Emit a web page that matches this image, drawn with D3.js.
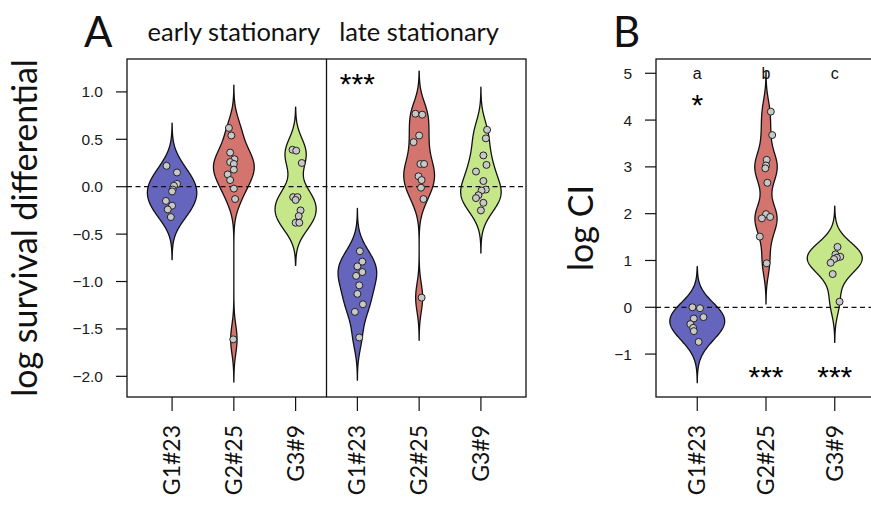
<!DOCTYPE html>
<html>
<head>
<meta charset="utf-8">
<script src="https://cdn.jsdelivr.net/npm/d3@7"></script>
<style>
  body { margin: 0; background: #fff; }
  svg { display: block; }
</style>
</head>
<body>
<div class="chart"></div>
<script>
// ---- data ----
const strains = ["G1#23", "G2#25", "G3#9"]
const phases = ["early stationary", "late stationary"]

// panel A: log survival differential
const earlyG1 = [0.22, 0.15, 0.03, 0.01, -0.03, -0.05, -0.15, -0.2, -0.24, -0.32]
const earlyG2 = [0.62, 0.54, 0.36, 0.29, 0.26, 0.24, 0.18, 0.13, 0.07, -0.02, -0.13, -1.61]
const earlyG3 = [0.39, 0.38, 0.25, -0.11, -0.11, -0.14, -0.25, -0.31, -0.38, -0.38]
const lateG1 = [-0.68, -0.79, -0.84, -0.9, -0.94, -1.04, -1.13, -1.24, -1.32, -1.59]
const lateG2 = [0.77, 0.76, 0.54, 0.47, 0.24, 0.24, 0.11, 0.07, -0.01, -0.13, -1.17]
const lateG3 = [0.6, 0.51, 0.33, 0.23, 0.16, 0.06, -0.03, -0.04, -0.09, -0.12, -0.17, -0.25]

// panel B: log CI
const ciG1 = [0.0, -0.02, -0.21, -0.24, -0.36, -0.44, -0.51, -0.74]
const ciG2 = [4.18, 3.68, 3.15, 3.03, 2.97, 2.66, 1.99, 1.93, 1.9, 1.51, 0.94]
const ciG3 = [1.29, 1.13, 1.08, 1.06, 1.03, 0.95, 0.71, 0.12]

// horizontal jitter of the dots, in category units
const jitEarlyG1 = [-0.09, 0.08, 0.08, 0.03, 0.01, 0, -0.1, 0, -0.07, -0.02]
const jitEarlyG2 = [-0.08, -0.04, -0.06, 0.01, -0.06, 0, 0, -0.1, -0.06, 0, 0.02, -0.01]
const jitEarlyG3 = [-0.05, 0.01, 0.1, -0.04, 0.03, 0, 0.08, 0.05, 0, 0.06]
const jitLateG1 = [0.04, 0.08, 0, 0.08, -0.02, 0.03, 0, 0.09, -0.04, 0.03]
const jitLateG2 = [-0.06, 0.05, 0, -0.09, 0.02, 0.08, -0.01, 0.04, 0.03, 0.07, 0.04]
const jitLateG3 = [0.1, 0.08, 0.04, 0.09, -0.08, 0.04, 0.08, 0.01, -0.04, -0.08, 0.04, 0]
const jitCiG1 = [-0.07, 0.04, 0.09, -0.05, -0.1, -0.06, -0.05, 0.02]
const jitCiG2 = [0.07, 0.09, 0.01, 0, -0.01, 0.02, 0, 0.06, -0.06, -0.09, 0.01]
const jitCiG3 = [0.04, 0.01, 0.08, 0.03, -0.01, -0.06, -0.03, 0.07]

const yTicksA = [-2.0, -1.5, -1.0, -0.5, 0.0, 0.5, 1.0]
const yTicksB = [-1, 0, 1, 2, 3, 4, 5]
const groupLetters = ["a", "b", "c"]
const starsA = "***"
const starsB = ["*", "***", "***"]

const colors = ["#6565be", "#d4746e", "#c6e68a"]
const latexFont = "Lato, 'Open Sans', sans-serif"
const numFont = "'Liberation Sans', Arial, sans-serif"

const width = 871, height = 512

const svg = d3.select(".chart").append("svg")
    .attr("width", width)
    .attr("height", height)

svg.append("rect").attr("width", width).attr("height", height).attr("fill", "#fff")

// gaussian kde over [min - 3h, max + 3h]
const kde = (values, h) => {
    const lo = d3.min(values) - 3 * h, hi = d3.max(values) + 3 * h
    const n = 240
    return d3.range(n + 1).map(i => {
        const v = lo + (hi - lo) * i / n
        const d = d3.sum(values, x => Math.exp(-0.5 * ((v - x) / h) ** 2)) / (values.length * h * Math.sqrt(2 * Math.PI))
        return [v, d]
    })
}

const drawPanel = (g, x, y, groups, bw, maxHalf) => {
    const dens = groups.map(d => kde(d.values, bw))
    const maxD = d3.max(dens, D => d3.max(D, d => d[1]))
    const line = d3.line().x(d => d[0]).y(d => d[1])

    groups.forEach((grp, i) => {
        const D = dens[i]
        const right = D.map(([v, d]) => [x(grp.pos + d / maxD * maxHalf), y(v)])
        const left = D.slice().reverse().map(([v, d]) => [x(grp.pos - d / maxD * maxHalf), y(v)])
        g.append("path")
            .attr("d", line(right.concat(left)) + "Z")
            .attr("fill", grp.color)
            .attr("stroke", "#111")
            .attr("stroke-width", 1.3)
            .attr("stroke-linejoin", "round")
    })

    g.append("line")
        .attr("x1", x.range()[0]).attr("x2", x.range()[1])
        .attr("y1", y(0)).attr("y2", y(0))
        .attr("stroke", "#111")
        .attr("stroke-width", 1.2)
        .attr("stroke-dasharray", "5,3.5")

    groups.forEach(grp => {
        g.append("g")
            .selectAll("circle")
            .data(grp.values.map((v, j) => ({ v, j: grp.jitter[j] })))
            .join("circle")
            .attr("cx", d => x(grp.pos + d.j))
            .attr("cy", d => y(d.v))
            .attr("r", 3.5)
            .attr("fill", "#c8c8c8")
            .attr("stroke", "#222")
            .attr("stroke-width", 1)
    })
}

const drawYAxis = (g, x0, y, ticks, fmt) => {
    const t = g.append("g").selectAll("g").data(ticks).join("g")
        .attr("transform", d => `translate(${x0},${y(d)})`)
    t.append("line").attr("x2", -11).attr("stroke", "#111").attr("stroke-width", 1.2)
    t.append("text")
        .attr("x", -24)
        .attr("dy", "0.35em")
        .attr("text-anchor", "end")
        .attr("font-family", numFont)
        .attr("font-size", 15.5)
        .attr("fill", "#1a1a1a")
        .text(d => fmt(d).replace("-", "\u2212"))
}

const drawXAxis = (g, x, yBase, positions, labels) => {
    const t = g.append("g").selectAll("g").data(positions).join("g")
        .attr("transform", d => `translate(${x(d)},${yBase})`)
    t.append("line").attr("y2", 14).attr("stroke", "#111").attr("stroke-width", 1.2)
    t.append("text")
        .attr("transform", "translate(0,28) rotate(-90)")
        .attr("dy", "0.35em")
        .attr("text-anchor", "end")
        .attr("font-family", latexFont)
        .attr("font-size", 23)
        .attr("fill", "#111")
        .text((d, i) => labels[i])
}

// ---- panel A ----
const xA = d3.scaleLinear().domain([0.27, 6.73]).range([127, 526])
const yA = d3.scaleLinear().domain([-2.218, 1.347]).range([397, 59])
const gA = svg.append("g")

const groupsA = [
    { pos: 1, values: earlyG1, jitter: jitEarlyG1, color: colors[0] },
    { pos: 2, values: earlyG2, jitter: jitEarlyG2, color: colors[1] },
    { pos: 3, values: earlyG3, jitter: jitEarlyG3, color: colors[2] },
    { pos: 4, values: lateG1, jitter: jitLateG1, color: colors[0] },
    { pos: 5, values: lateG2, jitter: jitLateG2, color: colors[1] },
    { pos: 6, values: lateG3, jitter: jitLateG3, color: colors[2] }
]
drawPanel(gA, xA, yA, groupsA, 0.15, 0.4)

gA.append("line")
    .attr("x1", xA(3.5)).attr("x2", xA(3.5))
    .attr("y1", 59).attr("y2", 397)
    .attr("stroke", "#111").attr("stroke-width", 1.3)
gA.append("rect")
    .attr("x", 127).attr("y", 59).attr("width", 399).attr("height", 338)
    .attr("fill", "none").attr("stroke", "#111").attr("stroke-width", 1.3)

drawYAxis(gA, 127, yA, yTicksA, d3.format(".1f"))
drawXAxis(gA, xA, 397, [1, 2, 3, 4, 5, 6], strains.concat(strains))

gA.append("text")
    .attr("x", xA(4)).attr("y", yA(0.98))
    .attr("text-anchor", "middle")
    .attr("font-family", numFont).attr("font-size", 30)
    .text(starsA)

phases.forEach((p, i) => {
    gA.append("text")
        .attr("x", xA(2 + 3 * i)).attr("y", 41)
        .attr("text-anchor", "middle")
        .attr("font-family", latexFont).attr("font-size", 25.5)
        .attr("fill", "#111")
        .text(p)
})

gA.append("text")
    .attr("transform", `translate(37,${(59 + 397) / 2}) rotate(-90)`)
    .attr("text-anchor", "middle")
    .attr("font-family", latexFont).attr("font-size", 34)
    .attr("fill", "#111")
    .text("log survival differential")

svg.append("text").attr("x", 84).attr("y", 47)
    .attr("font-family", latexFont).attr("font-size", 42).attr("fill", "#111")
    .text("A")

// ---- panel B ----
const xB = d3.scaleLinear().domain([0.4, 3.6]).range([656, 876])
const yB = d3.scaleLinear().domain([-1.917, 5.305]).range([397, 59])
const gB = svg.append("g")

const groupsB = [
    { pos: 1, values: ciG1, jitter: jitCiG1, color: colors[0] },
    { pos: 2, values: ciG2, jitter: jitCiG2, color: colors[1] },
    { pos: 3, values: ciG3, jitter: jitCiG3, color: colors[2] }
]
drawPanel(gB, xB, yB, groupsB, 0.29, 0.4)

gB.append("rect")
    .attr("x", 656).attr("y", 59).attr("width", 220).attr("height", 338)
    .attr("fill", "none").attr("stroke", "#111").attr("stroke-width", 1.3)

drawYAxis(gB, 656, yB, yTicksB, d3.format("d"))
drawXAxis(gB, xB, 397, [1, 2, 3], strains)

groupLetters.forEach((l, i) => {
    gB.append("text")
        .attr("x", xB(i + 1)).attr("y", yB(5)).attr("dy", "0.35em")
        .attr("text-anchor", "middle")
        .attr("font-family", numFont).attr("font-size", 16).attr("fill", "#111")
        .text(l)
})
gB.append("text")
    .attr("x", xB(1)).attr("y", yB(4.1))
    .attr("text-anchor", "middle")
    .attr("font-family", numFont).attr("font-size", 30)
    .text(starsB[0])
;[2, 3].forEach(p => {
    gB.append("text")
        .attr("x", xB(p)).attr("y", yB(-1.7))
        .attr("text-anchor", "middle")
        .attr("font-family", numFont).attr("font-size", 30)
        .text(starsB[p - 1])
})

gB.append("text")
    .attr("transform", `translate(593,${(59 + 397) / 2}) rotate(-90)`)
    .attr("text-anchor", "middle")
    .attr("font-family", latexFont).attr("font-size", 34)
    .attr("fill", "#111")
    .text("log CI")

svg.append("text").attr("x", 613).attr("y", 47)
    .attr("font-family", latexFont).attr("font-size", 42).attr("fill", "#111")
    .text("B")
</script>
</body>
</html>
